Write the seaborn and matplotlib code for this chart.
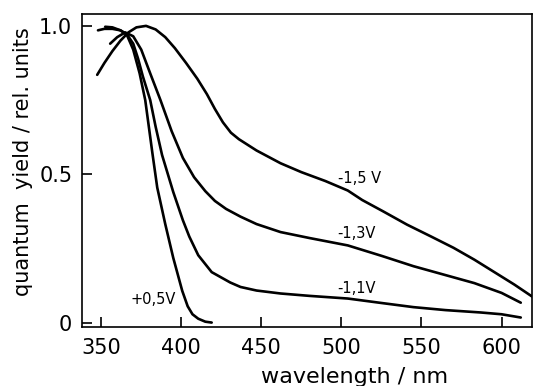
import numpy as np
import pandas as pd
import seaborn as sns
from matplotlib import pyplot as plt

### curves (wavelength in nm, yield in rel. units)

wl_m15 = [347.5, 352, 357, 362, 367, 372, 378, 384, 390, 396, 403, 410, 416, 421, 426, 431, 436,
          447, 462, 475, 490, 504, 513, 526, 541, 556, 570, 583, 597, 608, 619]
qy_m15 = [0.835, 0.875, 0.915, 0.95, 0.978, 0.995, 1.0, 0.988, 0.962, 0.925, 0.875, 0.822, 0.77, 0.72,
          0.675, 0.64, 0.618, 0.58, 0.537, 0.507, 0.477, 0.445, 0.413, 0.375, 0.33, 0.29, 0.252, 0.212,
          0.165, 0.128, 0.088]

wl_m13 = [355.6, 360, 365, 370, 375, 380.6, 387, 394, 401, 408, 415, 421, 428, 437, 447, 462, 480,
          504, 525, 545, 565, 583, 600, 612]
qy_m13 = [0.94, 0.962, 0.978, 0.965, 0.92, 0.84, 0.75, 0.645, 0.555, 0.49, 0.443, 0.41, 0.383, 0.357,
          0.332, 0.305, 0.285, 0.26, 0.225, 0.19, 0.16, 0.133, 0.1, 0.067]

wl_m11 = [352.5, 357, 362, 366, 370, 373, 376, 380.6, 384, 388, 395, 401, 405, 410.6, 419, 430.6,
          437, 447, 462, 480, 504, 525, 545, 565, 587, 600, 612]
qy_m11 = [0.997, 0.995, 0.985, 0.972, 0.94, 0.89, 0.83, 0.75, 0.66, 0.565, 0.44, 0.345, 0.29, 0.227,
          0.17, 0.135, 0.12, 0.108, 0.098, 0.09, 0.081, 0.066, 0.052, 0.042, 0.034, 0.028, 0.017]

wl_p05 = [348, 352, 357, 362, 366, 370, 374, 377.5, 382, 385, 390, 395, 400.6, 404, 407, 410.6, 415, 419]
qy_p05 = [0.985, 0.99, 0.99, 0.985, 0.97, 0.92, 0.84, 0.75, 0.57, 0.455, 0.332, 0.218, 0.107, 0.055,
          0.028, 0.013, 0.003, 0.0]

curve_labels = ['-1,5 V', '-1,3V', '-1,1V', '+0,5V']
label_x = [498, 497.5, 497.5, 368]
label_y = [0.486, 0.30, 0.115, 0.078]

x_ticks = [350, 400, 450, 500, 550, 600]
y_ticks = [0, 0.5, 1.0]
y_ticklabels = ['0', '0.5', '1.0']

curves = [(wl_m15, qy_m15), (wl_m13, qy_m13), (wl_m11, qy_m11), (wl_p05, qy_p05)]

sns.set_style("ticks")
plt.rcParams['font.family'] = ['DejaVu Sans']
plt.rcParams['text.color'] = 'black'
plt.rcParams['axes.labelcolor'] = 'black'

fig = plt.figure(figsize=(5.33, 3.86), dpi=100)
ax = fig.add_axes([0.1538, 0.1528, 0.8443, 0.8109])

for wl, qy in curves:
    sns.lineplot(x=wl, y=qy, ax=ax, color='black', linewidth=1.9, sort=False)

for txt, lx, ly in zip(curve_labels, label_x, label_y):
    ax.text(lx, ly, txt, fontsize=10.5, ha='left', va='center', color='black')

ax.set_xlim(338, 619)
ax.set_ylim(-0.015, 1.04)
ax.set_xticks(x_ticks)
ax.set_yticks(y_ticks)
ax.set_yticklabels(y_ticklabels)
ax.tick_params(direction='in', length=7, width=1.2, labelsize=15, color='black', labelcolor='black')
ax.tick_params(axis='x', pad=8)
ax.tick_params(axis='y', pad=7)
for sp in ax.spines.values():
    sp.set_visible(True)
    sp.set_linewidth(1.2)
    sp.set_color('black')

ax.set_xlabel('wavelength / nm', fontsize=16, color='black')
ax.set_ylabel('quantum  yield / rel. units', fontsize=15, color='black')
ax.xaxis.set_label_coords(0.605, -0.128)
ax.yaxis.set_label_coords(-0.108, 0.527)

plt.savefig('out.png', dpi=100)
